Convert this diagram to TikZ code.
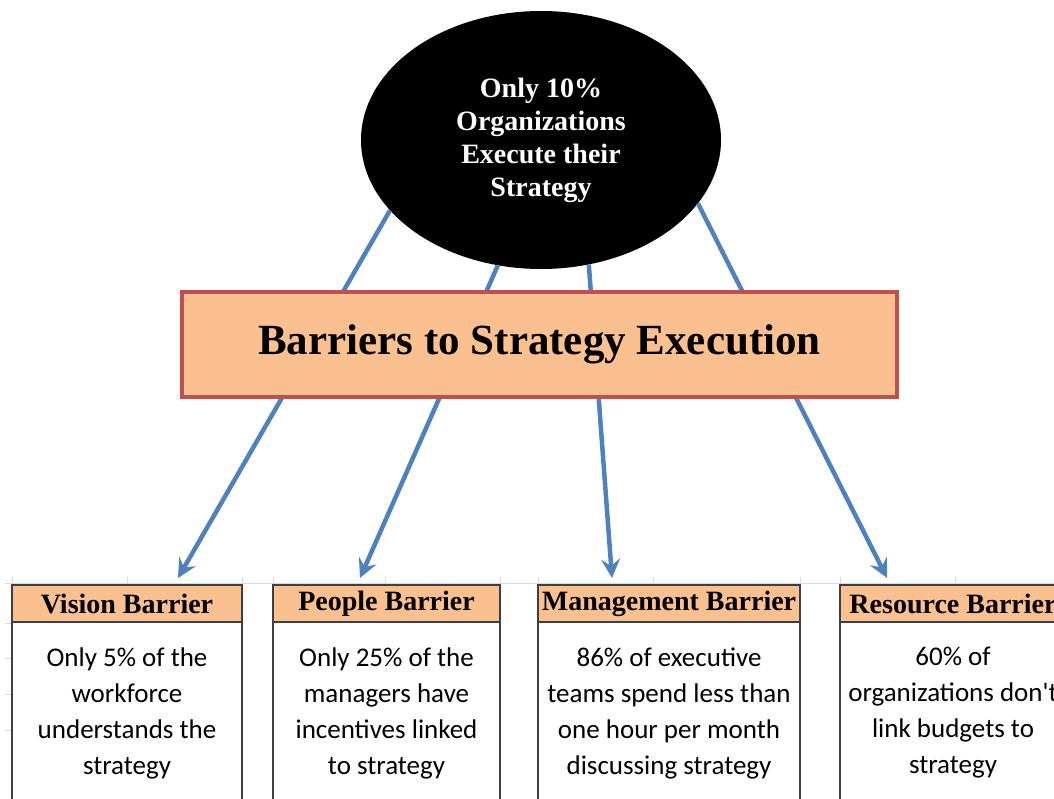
\documentclass[tikz,border=0pt]{standalone}
\usepackage{fontspec}
\setmainfont{Liberation Serif}
\newfontfamily\calibri{Carlito}
\usetikzlibrary{shapes.geometric,arrows.meta,positioning}
\definecolor{peach}{HTML}{FAC090}
\definecolor{brick}{HTML}{C0504D}
\definecolor{steel}{HTML}{4F81BD}
\definecolor{cellgrid}{HTML}{D4DAE6}
\definecolor{boxline}{HTML}{3F3F3F}
\tikzstyle{oval} = [ellipse, fill = black, text = white, minimum width = 360pt, minimum height = 258pt, inner sep = 0pt, align = center, font = \fontsize{28}{33}\selectfont\bfseries]
\tikzstyle{banner} = [rectangle, draw = brick, line width = 4pt, fill = peach, minimum width = 715pt, minimum height = 105pt, font = \fontsize{43}{50}\selectfont\bfseries]
\tikzstyle{head} = [rectangle, draw = boxline, line width = 2pt, fill = peach, minimum height = 37pt, inner sep = 0pt, outer sep = 0pt, font = \fontsize{28}{30}\selectfont\bfseries]
\tikzstyle{body} = [rectangle, draw = boxline, line width = 2pt, fill = white, minimum height = 182pt, inner sep = 0pt, outer sep = 0pt, align = center, font = \calibri\fontsize{27}{36}\selectfont]
\tikzstyle{link} = [-{Stealth[length = 19pt, width = 19pt, inset = 7pt]}, draw = steel, line width = 4.5pt]

\begin{document}
\begin{tikzpicture}[x = 1pt, y = -1pt]
            \useasboundingbox (0, 0) rectangle (1054, 798);
            \clip (0, 0) rectangle (1054, 798);
            % spreadsheet grid
            \draw [cellgrid, line width = 1pt] (5, 583) -- (1054, 583);
            \foreach \gx in {12, 127, 242, 273, 385, 500, 538, 653, 800, 840, 955}
                \draw [cellgrid, line width = 1pt] (\gx, 577) -- (\gx, 583);
            \foreach \gy in {623, 658, 694, 730}
                \draw [cellgrid, line width = 1pt] (5, \gy) -- (12, \gy);
            \node (top) at (541, 140) [oval] {Only 10\%\\Organizations\\Execute their\\Strategy};
            \coordinate (tipvision) at (178, 578);
            \coordinate (tippeople) at (360, 578);
            \coordinate (tipmanage) at (612, 578);
            \coordinate (tipresource) at (887, 578);
            \draw [link] (top.-155) -- (tipvision);
            \draw [link] (top.-109) -- (tippeople);
            \draw [link] (top.-69) -- (tipmanage);
            \draw [link] (top.-22.5) -- (tipresource);
            \node (barriers) at (539.5, 344.5) [banner] {Barriers to Strategy Execution};
            \node (vision) at (127, 603.5) [head, minimum width = 230pt] {Vision Barrier};
            \node (visiontxt) [body, minimum width = 230pt, below = 0pt of vision] {Only 5\% of the\\workforce\\understands the\\strategy};
            \node (people) at (386.5, 603.5) [head, minimum width = 227pt] {People Barrier};
            \node (peopletxt) [body, minimum width = 227pt, below = 0pt of people] {Only 25\% of the\\managers have\\incentives linked\\to strategy};
            \node (manage) at (669, 603.5) [head, minimum width = 262pt] {Management Barrier};
            \node (managetxt) [body, minimum width = 262pt, below = 0pt of manage] {86\% of executive\\teams spend less than\\one hour per month\\discussing strategy};
            \node (resource) at (953, 603.5) [head, minimum width = 226pt] {Resource Barrier};
            \node (resourcetxt) [body, minimum width = 226pt, below = 0pt of resource] {60\% of\\organizations don't\\link budgets to\\strategy};
        \end{tikzpicture}
\end{document}
